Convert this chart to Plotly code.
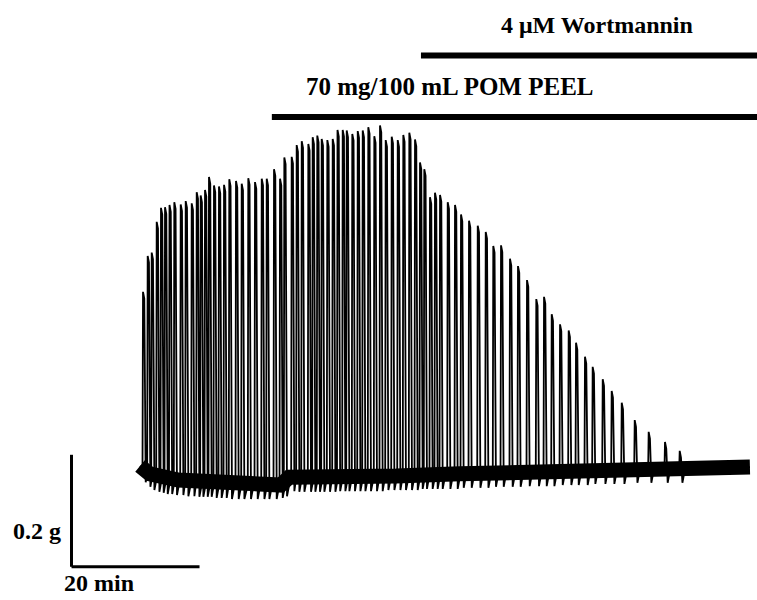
import plotly.graph_objects as go

# Isometric tension recording: spontaneous contractions, then pomegranate peel
# extract, then wortmannin added on top of the extract.

# Contraction peaks: time (min from start of trace) and tension (g)
spike_t = [0.47, 1.20, 1.83, 2.61, 3.28, 3.91, 4.61, 5.36, 6.36, 7.14,
           8.08, 8.86, 9.48, 10.16, 10.78, 11.56, 12.34, 13.13, 13.95, 15.00,
           15.89, 16.92, 17.97, 19.02, 19.80, 20.94, 21.88, 22.55, 23.70, 24.48,
           25.27, 26.30, 26.98, 27.70, 28.39, 29.27, 30.11, 30.86, 31.67, 32.30,
           33.17, 34.02, 34.80, 35.67, 36.61, 37.50, 38.39, 39.33, 40.27, 41.14,
           42.08, 42.97, 43.75, 44.42, 45.31, 46.09, 46.88, 48.08, 49.22, 50.16,
           51.41, 52.77, 54.02, 55.20, 56.41, 57.81, 59.06, 60.47, 61.92, 63.13,
           64.33, 65.63, 66.98, 68.13, 69.53, 70.73, 72.30, 73.70, 75.27, 77.30,
           79.48, 82.03, 84.33]
spike_g = [0.336, 0.400, 0.406, 0.461, 0.486, 0.487, 0.491, 0.496, 0.492, 0.498,
           0.494, 0.514, 0.508, 0.518, 0.541, 0.526, 0.524, 0.527, 0.537, 0.534,
           0.529, 0.539, 0.532, 0.538, 0.538, 0.555, 0.538, 0.576, 0.577, 0.598,
           0.605, 0.600, 0.612, 0.615, 0.609, 0.607, 0.609, 0.625, 0.625, 0.624,
           0.618, 0.623, 0.624, 0.630, 0.614, 0.633, 0.607, 0.613, 0.607, 0.616,
           0.620, 0.608, 0.567, 0.555, 0.505, 0.513, 0.509, 0.496, 0.491, 0.474,
           0.463, 0.454, 0.443, 0.418, 0.419, 0.395, 0.382, 0.357, 0.323, 0.327,
           0.296, 0.278, 0.267, 0.245, 0.220, 0.202, 0.180, 0.159, 0.138, 0.107,
           0.086, 0.068, 0.052]
# Resting tension just before each contraction (g)
rest_g = [0.021, 0.013, 0.007, 0.004, 0.002, 0.000, 0.000, -0.002, -0.002, -0.004,
          -0.004, -0.005, -0.005, -0.005, -0.005, -0.007, -0.007, -0.007, -0.009, -0.009,
          -0.009, -0.009, -0.009, -0.009, -0.009, -0.009, -0.007, -0.004, 0.005, 0.004,
          0.004, 0.004, 0.004, 0.004, 0.004, 0.004, 0.004, 0.005, 0.005, 0.005,
          0.005, 0.005, 0.005, 0.005, 0.005, 0.005, 0.007, 0.007, 0.007, 0.007,
          0.007, 0.007, 0.009, 0.009, 0.009, 0.009, 0.009, 0.009, 0.009, 0.011,
          0.011, 0.011, 0.011, 0.013, 0.013, 0.013, 0.013, 0.014, 0.014, 0.014,
          0.014, 0.016, 0.016, 0.016, 0.016, 0.018, 0.018, 0.018, 0.018, 0.020,
          0.020, 0.020, 0.020]

# Baseline noise envelope (centre of the band, g)
band_t = [0.0, 1.5, 6.0, 12.0, 18.0, 22.0, 23.3, 30.0, 40.0, 50.0, 64.0, 80.0, 95.3]
band_g = [0.025, 0.011, 0.000, -0.005, -0.009, -0.009, 0.005, 0.004, 0.007, 0.011,
          0.016, 0.021, 0.023]

# Drug additions (min)
pom_start = 20.6
wort_start = 43.9
pom_label = "70 mg/100 mL POM PEEL"
wort_label = "4 \u03bcM Wortmannin"

# Calibration bars
scale_t0, scale_g0 = -10.7, -0.155
scale_dt, scale_dg = 20, 0.2

X_RANGE = [-21.875, 96.406]
Y_RANGE = [-0.2143, 0.8571]

# Build the contraction trace: fast rise, brief top, relaxation with undershoot
xs, ys = [band_t[0]], [band_g[0]]
for t, p, r in zip(spike_t, spike_g, rest_g):
    xs += [t - 0.08, t, t + 0.2, t + 0.42, t + 0.7]
    ys += [r, p, p - 0.012, r - 0.025, r - 0.008]
xs.append(band_t[-1])
ys.append(band_g[-1])

fig = go.Figure()
fig.add_trace(go.Scatter(x=band_t, y=band_g, mode="lines",
                         line=dict(color="black", width=15), hoverinfo="skip"))
fig.add_trace(go.Scatter(x=xs, y=ys, mode="lines",
                         line=dict(color="black", width=1.8), hoverinfo="skip"))

# Treatment bars
fig.add_shape(type="line", x0=pom_start, x1=X_RANGE[1], y0=0.648, y1=0.648,
              line=dict(color="black", width=6))
fig.add_shape(type="line", x0=wort_start, x1=X_RANGE[1], y0=0.758, y1=0.758,
              line=dict(color="black", width=6))

# Calibration bars
fig.add_shape(type="line", x0=scale_t0, x1=scale_t0, y0=scale_g0, y1=scale_g0 + scale_dg,
              line=dict(color="black", width=3))
fig.add_shape(type="line", x0=scale_t0, x1=scale_t0 + scale_dt, y0=scale_g0, y1=scale_g0,
              line=dict(color="black", width=3))

font = dict(family="Liberation Serif, Times New Roman, serif", size=24, color="black")
fig.add_annotation(x=48.4, y=0.702, text="<b>" + pom_label + "</b>", showarrow=False,
                   font=dict(font, size=25), xanchor="center", yanchor="middle")
fig.add_annotation(x=71.4, y=0.8125, text="<b>" + wort_label + "</b>", showarrow=False,
                   font=font, xanchor="center", yanchor="middle")
fig.add_annotation(x=-12.0, y=scale_g0 + 0.064, text="<b>0.2 g</b>", showarrow=False,
                   font=font, xanchor="right", yanchor="middle")
fig.add_annotation(x=scale_t0 + 4.3, y=-0.184, text="<b>20 min</b>", showarrow=False,
                   font=font, xanchor="center", yanchor="middle")

fig.update_xaxes(visible=False, range=X_RANGE)
fig.update_yaxes(visible=False, range=Y_RANGE)
fig.update_layout(width=757, height=600, margin=dict(l=0, r=0, t=0, b=0),
                  plot_bgcolor="white", paper_bgcolor="white", showlegend=False)

fig.write_html("out.html")
